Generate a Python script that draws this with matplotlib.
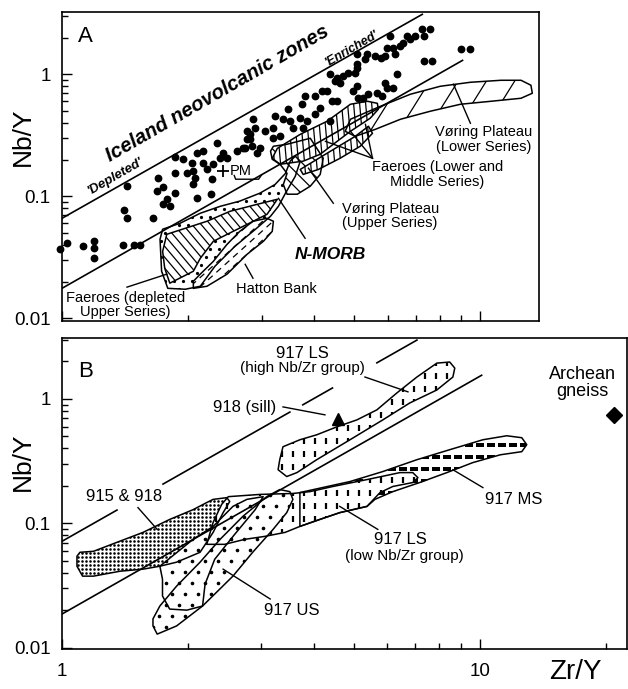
import numpy as np
import matplotlib
matplotlib.use('Agg')
import matplotlib.pyplot as plt
from matplotlib.patches import Polygon
from matplotlib.collections import LineCollection
from matplotlib.transforms import IdentityTransform
from matplotlib.ticker import FixedLocator, FixedFormatter, LogLocator, NullFormatter

plt.rcParams['font.family'] = ['Liberation Sans', 'DejaVu Sans']

# ---------------- panel A (Zr/Y, Nb/Y) ----------------
ice_up_x = [1.0, 7.26]
ice_up_y = [0.066, 3.1]
ice_lo_x = [1.0, 9.06]
ice_lo_y = [0.0176, 1.30]

ice_x = [0.99, 1.03, 1.12, 1.19, 1.19, 1.19, 1.40, 1.49, 1.54,
         1.43, 1.41, 1.43, 1.65, 1.86, 1.70, 1.69, 1.74, 1.78, 1.86, 1.74, 1.81,
         1.86, 1.95, 1.99, 2.05, 2.06, 2.08, 2.06, 2.10, 2.17, 2.17, 2.22, 2.30, 2.28,
         2.10, 2.27, 2.35, 2.39, 2.43, 2.48, 2.62, 2.71, 2.77, 2.82, 2.86, 2.85, 2.93,
         2.90, 2.77, 3.06, 3.20, 3.23, 3.38, 3.47, 3.51, 3.75, 3.71, 3.85, 4.03, 4.14,
         4.38, 4.43, 4.55, 4.03, 4.19, 4.30, 3.81, 4.97, 5.08, 5.11, 5.25, 5.40, 5.67,
         5.83, 5.99, 6.19, 6.33, 5.93, 4.38, 4.55, 4.70, 4.83, 5.02, 5.08, 4.50, 4.62,
         5.37, 5.61, 5.77, 5.93, 5.99, 6.19, 6.26, 6.44, 6.54, 6.69, 6.80, 6.99, 7.26,
         7.59, 7.31, 6.09, 5.08, 5.31, 5.08, 7.31, 7.67, 8.96, 9.46,
         2.74, 2.98, 2.82, 3.20, 3.32, 3.57, 3.77]
ice_y = [0.0368, 0.0412, 0.0389, 0.0428, 0.0375, 0.031, 0.0397, 0.0397, 0.0397,
         0.121, 0.0767, 0.066, 0.066, 0.209, 0.141, 0.110, 0.119, 0.0945, 0.106, 0.086, 0.0828,
         0.154, 0.201, 0.154, 0.186, 0.160, 0.141, 0.125, 0.225, 0.234, 0.186, 0.166, 0.183, 0.138,
         0.0963, 0.104, 0.272, 0.205, 0.225, 0.205, 0.234, 0.247, 0.293, 0.322, 0.428, 0.257, 0.225,
         0.361, 0.341, 0.341, 0.361, 0.453, 0.428, 0.517, 0.412, 0.568, 0.436, 0.412, 0.47, 0.526,
         0.412, 0.601, 0.601, 0.66, 0.726, 0.726, 0.66, 0.726, 0.797, 0.636, 0.636, 0.686, 0.699,
         0.66, 0.768, 0.768, 1.0, 0.844, 1.0, 0.927, 0.963, 1.02, 1.02, 1.12, 0.877, 0.844,
         1.46, 1.40, 1.35, 1.40, 1.63, 1.63, 1.46, 1.70, 1.80, 2.05, 1.94, 2.05, 2.34,
         2.34, 2.05, 2.05, 1.46, 1.33, 1.21, 1.28, 1.28, 1.60, 1.60,
         0.247, 0.247, 0.293, 0.299, 0.310, 0.361, 0.361]

pm_x, pm_y = 2.43, 0.160
# small bracket under PM
pm_brk_x = [2.58, 2.60, 2.95, 3.00]
pm_brk_y = [0.148, 0.138, 0.138, 0.150]

nmorb_x = [1.715, 1.74, 1.915, 2.14, 2.39, 2.66, 2.97, 3.23, 3.42, 3.51, 3.61, 3.71,
           3.61, 3.42, 3.29, 3.15, 2.90, 2.59, 2.32, 2.14, 1.97, 1.79, 1.73]
nmorb_y = [0.0444, 0.0537, 0.0601, 0.0726, 0.0828, 0.0913, 0.106, 0.125, 0.154, 0.194, 0.213, 0.194,
           0.146, 0.106, 0.0828, 0.0686, 0.0537, 0.0389, 0.0267, 0.0183, 0.0173, 0.0176, 0.0243]

faer_dep_x = [1.78, 2.22, 2.52, 2.93, 3.27, 3.09, 2.77, 2.30, 2.14, 2.06, 1.81, 1.76, 1.74]
faer_dep_y = [0.0488, 0.0624, 0.0753, 0.0860, 0.0945, 0.0712, 0.0589, 0.0428, 0.031, 0.0243,
              0.0194, 0.0257, 0.0354]

hatton_x = [2.06, 2.22, 2.48, 2.77, 3.03, 3.18, 3.20, 3.09, 2.86, 2.66, 2.48, 2.30, 2.14, 2.06]
hatton_y = [0.0176, 0.0183, 0.0230, 0.0335, 0.0428, 0.0516, 0.0624, 0.066, 0.0624, 0.0516,
            0.0404, 0.0293, 0.0230, 0.0201]

voring_up_x = [3.20, 3.45, 3.92, 4.21, 4.14, 3.92, 3.65, 3.45, 3.38, 3.45, 3.32, 3.18, 3.15]
voring_up_y = [0.257, 0.267, 0.299, 0.205, 0.151, 0.121, 0.104, 0.104, 0.125, 0.154, 0.183,
               0.201, 0.234]

faer_low_x = [3.18, 3.27, 3.71, 4.30, 4.89, 5.37, 5.67, 5.70, 5.45, 4.89, 4.45, 4.14, 3.77, 3.32]
faer_low_y = [0.205, 0.247, 0.322, 0.412, 0.568, 0.601, 0.578, 0.517, 0.436, 0.341, 0.267,
              0.221, 0.194, 0.183]

faer_mid_x = [3.71, 4.38, 5.02, 5.40, 5.52, 5.16, 4.62, 4.10, 3.77]
faer_mid_y = [0.166, 0.234, 0.310, 0.375, 0.328, 0.257, 0.205, 0.166, 0.151]

voring_low_x = [4.89, 5.77, 6.80, 8.01, 9.46, 11.2, 12.5, 13.2, 13.3, 12.5, 10.6, 8.96,
                7.59, 6.44, 5.61, 5.02, 4.75]
voring_low_y = [0.428, 0.547, 0.686, 0.797, 0.860, 0.893, 0.893, 0.813, 0.699, 0.636, 0.601,
                0.568, 0.498, 0.428, 0.354, 0.310, 0.341]

# ---------------- panel B ----------------
# upper reference line is drawn as long dashes: pairs of (start, end)
ref_up_x = [1.0, 1.354, 1.745, 3.51, 3.77, 4.44, 5.67, 7.07]
ref_up_y = [0.0718, 0.128, 0.207, 0.784, 0.897, 1.225, 1.95, 2.97]
ref_lo_x = [1.0, 10.1]
ref_lo_y = [0.0187, 1.55]

s915_x = [1.086, 1.104, 1.19, 1.354, 1.563, 1.81, 2.06, 2.22, 2.30, 2.48, 2.52, 2.43, 2.30,
          2.14, 1.88, 1.715, 1.563, 1.377, 1.19, 1.12, 1.086]
s915_y = [0.0545, 0.0586, 0.0597, 0.0705, 0.0847, 0.1076, 0.129, 0.147, 0.156, 0.161, 0.150,
          0.122, 0.0847, 0.0586, 0.0488, 0.0453, 0.0429, 0.0413, 0.0377, 0.0377, 0.0453]

us_a_x = [1.651, 1.69, 1.88, 2.17, 2.565, 2.86, 3.20, 3.45, 3.57, 3.51, 3.32, 3.09, 2.71,
          2.39, 2.14, 1.88, 1.715, 1.651]
us_a_y = [0.0150, 0.0129, 0.0150, 0.0217, 0.0377, 0.0586, 0.0895, 0.122, 0.156, 0.180, 0.187,
          0.164, 0.114, 0.0745, 0.0488, 0.0313, 0.0217, 0.0171]

us_b_x = [1.715, 2.06, 2.30, 2.565, 2.77, 3.03, 2.90, 2.59, 2.32, 2.20, 2.17, 1.99, 1.81,
          1.74, 1.74]
us_b_y = [0.0453, 0.0745, 0.0946, 0.137, 0.156, 0.164, 0.129, 0.0817, 0.0515, 0.0325, 0.0217,
          0.0201, 0.0205, 0.0261, 0.0356]

ls_high_x = [3.32, 3.38, 3.71, 4.07, 4.55, 5.08, 5.67, 6.33, 7.07, 7.89, 8.47, 8.71, 8.62,
             7.89, 6.80, 5.86, 4.89, 4.07, 3.65, 3.45, 3.29]
ls_high_y = [0.325, 0.413, 0.470, 0.515, 0.597, 0.679, 0.817, 1.117, 1.50, 1.94, 1.98, 1.77,
             1.50, 1.18, 0.929, 0.679, 0.470, 0.325, 0.256, 0.238, 0.270]

ls_low_x = [2.22, 2.30, 2.41, 2.50, 2.98, 3.57, 3.92, 4.45, 5.37, 6.44, 6.91, 7.11, 6.91,
            6.19, 5.77, 5.37, 4.62, 4.14, 3.71, 3.42, 3.06, 2.74, 2.45]
ls_low_y = [0.0679, 0.102, 0.142, 0.164, 0.171, 0.174, 0.180, 0.198, 0.225, 0.256, 0.256,
            0.233, 0.213, 0.198, 0.177, 0.137, 0.122, 0.1076, 0.0946, 0.0847, 0.0787, 0.0745,
            0.0679]

ms_x = [3.71, 4.89, 5.86, 7.07, 8.47, 10.17, 11.6, 12.6, 12.95, 12.6, 11.2, 9.62, 8.34, 7.18,
        6.19, 5.61, 5.37, 4.62, 4.14, 3.71]
ms_y = [0.177, 0.217, 0.261, 0.325, 0.391, 0.470, 0.506, 0.488, 0.429, 0.377, 0.356, 0.308,
        0.256, 0.213, 0.180, 0.156, 0.137, 0.122, 0.1076, 0.0946]

sill_x, sill_y = 4.57, 0.69
gneiss_x, gneiss_y = 20.9, 0.745

ZF = {'z': 2.0}


def field(ax, xs, ys):
    ZF['z'] += 0.01
    pts = np.column_stack([xs, ys])
    p = Polygon(pts, closed=True, fc='white', ec='none', zorder=ZF['z'])
    ax.add_patch(p)
    ax.add_patch(Polygon(pts, closed=True, fc='none', ec='black', lw=1.1,
                         joinstyle='round', zorder=6))
    return p


def marks(ax, patch, dx, dy, marker, ms, mew=1.0, stagger=True):
    bb = ax.bbox
    gx, gy = np.meshgrid(np.arange(bb.x0, bb.x1, dx), np.arange(bb.y0, bb.y1, dy))
    if stagger:
        gx[1::2] += dx / 2
    ln, = ax.plot(gx.ravel(), gy.ravel(), ls='none', marker=marker, ms=ms, mew=mew,
                  color='black', transform=IdentityTransform(),
                  zorder=patch.get_zorder() + 0.005)
    ln.set_clip_path(patch)


def strokes(ax, patch, angle, gap, ls='-', lw=0.9):
    bb = ax.bbox
    cx, cy = (bb.x0 + bb.x1) / 2, (bb.y0 + bb.y1) / 2
    L = np.hypot(bb.width, bb.height)
    a = np.radians(angle)
    d = np.array([np.cos(a), np.sin(a)])
    n = np.array([-np.sin(a), np.cos(a)])
    segs = []
    for o in np.arange(-L, L, gap):
        c = np.array([cx, cy]) + n * o
        segs.append([c - d * L, c + d * L])
    lc = LineCollection(segs, colors='black', linewidths=lw, linestyles=ls,
                        transform=IdentityTransform(), zorder=patch.get_zorder() + 0.005)
    ax.add_collection(lc, autolim=False)
    lc.set_clip_path(patch)


def style_axes(ax, ylim, xlim, xlabels):
    ax.set_xscale('log')
    ax.set_yscale('log')
    ax.set_xlim(*xlim)
    ax.set_ylim(*ylim)
    ax.xaxis.set_major_locator(FixedLocator([1, 10]))
    ax.xaxis.set_minor_locator(LogLocator(subs=np.arange(2, 10)))
    ax.xaxis.set_minor_formatter(NullFormatter())
    if xlabels:
        ax.xaxis.set_major_formatter(FixedFormatter(['1', '10']))
    else:
        ax.xaxis.set_major_formatter(NullFormatter())
    ax.yaxis.set_major_locator(FixedLocator([0.01, 0.1, 1]))
    ax.yaxis.set_major_formatter(FixedFormatter(['0.01', '0.1', '1']))
    ax.yaxis.set_minor_locator(LogLocator(subs=np.arange(2, 10)))
    ax.yaxis.set_minor_formatter(NullFormatter())
    ax.tick_params(which='both', direction='in', top=False, right=False, width=1)
    ax.tick_params(which='major', length=7, labelsize=13.5, pad=8)
    ax.tick_params(which='minor', length=4)
    for s in ax.spines.values():
        s.set_linewidth(1.2)


fig = plt.figure(figsize=(6.28, 6.89), dpi=100)
axA = fig.add_axes([0.0987, 0.5341, 0.7596, 0.4485])
axB = fig.add_axes([0.0987, 0.0581, 0.8997, 0.4514])
style_axes(axA, (0.0095, 3.24), (1, 13.8), False)
style_axes(axB, (0.0098, 3.09), (1, 22.5), True)
axB.tick_params(axis='x', which='major', pad=10)

# ---- panel A fields ----
p = field(axA, nmorb_x, nmorb_y)
marks(axA, p, 9, 8, 'o', 1.3)
p = field(axA, faer_dep_x, faer_dep_y)
strokes(axA, p, -50, 7)
p = field(axA, hatton_x, hatton_y)
strokes(axA, p, 42, 7, ls=(0, (5, 4)))
p = field(axA, voring_up_x, voring_up_y)
strokes(axA, p, -45, 11)
p = field(axA, voring_low_x, voring_low_y)
strokes(axA, p, 58, 24)
p = field(axA, faer_mid_x, faer_mid_y)
strokes(axA, p, 95, 6)
p = field(axA, faer_low_x, faer_low_y)
strokes(axA, p, 95, 6)

axA.plot(ice_up_x, ice_up_y, color='black', lw=1.2, zorder=7)
axA.plot(ice_lo_x, ice_lo_y, color='black', lw=1.2, zorder=7)
axA.plot(ice_x, ice_y, ls='none', marker='o', ms=4.6, color='black', zorder=8, clip_on=False)
axA.plot(pm_x, pm_y, marker='+', ms=9, mew=1.3, color='black', zorder=8)
axA.plot(pm_brk_x, pm_brk_y, color='black', lw=1.0, zorder=7)
axA.text(2.52, pm_y, 'PM', fontsize=10.5, ha='left', va='center', zorder=9)

axA.text(0.05, 0.922, 'A', transform=axA.transAxes, fontsize=16, ha='center', va='center')
axA.text(2.35, 0.70, 'Iceland neovolcanic zones', fontsize=14.5, fontweight='bold',
         fontstyle='italic', rotation=30, ha='center', va='center', rotation_mode='anchor')
axA.text(1.34, 0.146, "'Depleted'", fontsize=9.5, fontweight='bold', fontstyle='italic',
         rotation=30, ha='center', va='center', rotation_mode='anchor')
axA.text(4.94, 1.63, "'Enriched'", fontsize=9, fontweight='bold', fontstyle='italic',
         rotation=30, ha='center', va='center', rotation_mode='anchor')
axA.text(4.38, 0.0335, 'N-MORB', fontsize=12.5, fontweight='bold', fontstyle='italic',
         ha='center', va='center')
axA.text(3.25, 0.0173, 'Hatton Bank', fontsize=10.5, ha='center', va='center')
axA.text(1.42, 0.0128, 'Faeroes (depleted\nUpper Series)', fontsize=10.5, ha='center',
         va='center', linespacing=1.0)
axA.text(10.17, 0.293, 'V\u00f8ring Plateau\n(Lower Series)', fontsize=10.5, ha='center',
         va='center', linespacing=1.1)
axA.text(7.89, 0.151, 'Faeroes (Lower and\nMiddle Series)', fontsize=10.5, ha='center',
         va='center', linespacing=1.1)
axA.text(4.67, 0.0686, 'V\u00f8ring Plateau\n(Upper Series)', fontsize=10.5, ha='left',
         va='center', linespacing=1.0)

leadA = [((1.43, 0.0180), (1.78, 0.0230)),
         ((2.86, 0.0213), (2.74, 0.0277)),
         ((3.81, 0.0453), (3.29, 0.0963)),
         ((4.45, 0.0877), (3.88, 0.170)),
         ((5.52, 0.205), (4.26, 0.282)),
         ((5.52, 0.205), (4.89, 0.341)),
         ((5.52, 0.205), (5.31, 0.389)),
         ((9.46, 0.397), (8.62, 0.828))]
for (x0, y0), (x1, y1) in leadA:
    axA.plot([x0, x1], [y0, y1], color='black', lw=1.0, zorder=7)

# ---- panel B fields ----
ZF['z'] = 2.0
p = field(axB, s915_x, s915_y)
marks(axB, p, 4, 4, 'o', 0.85, stagger=False)
p = field(axB, ms_x, ms_y)
marks(axB, p, 11, 12, '_', 5.5, mew=1.5, stagger=False)
p = field(axB, ls_low_x, ls_low_y)
marks(axB, p, 11, 13, '|', 5, mew=1.6, stagger=False)
p = field(axB, us_b_x, us_b_y)
marks(axB, p, 13, 11, 'o', 1.6)
p = field(axB, us_a_x, us_a_y)
marks(axB, p, 13, 11, 'o', 1.6)
p = field(axB, ls_high_x, ls_high_y)
marks(axB, p, 11, 13, '|', 5, mew=1.6, stagger=False)

for i in range(0, len(ref_up_x), 2):
    axB.plot(ref_up_x[i:i + 2], ref_up_y[i:i + 2], color='black', lw=1.2, zorder=7)
axB.plot(ref_lo_x, ref_lo_y, color='black', lw=1.2, zorder=7)
axB.plot(sill_x, sill_y, marker='^', ms=9, color='black', zorder=8)
axB.plot(gneiss_x, gneiss_y, marker='D', ms=8, color='black', zorder=8, clip_on=False)

axB.text(0.042, 0.891, 'B', transform=axB.transAxes, fontsize=16, ha='center', va='center')
axB.text(3.77, 2.33, '917 LS', fontsize=12, ha='center', va='center')
axB.text(3.77, 1.77, '(high Nb/Zr group)', fontsize=11, ha='center', va='center')
axB.text(2.74, 0.847, '918 (sill)', fontsize=12, ha='center', va='center')
axB.text(1.41, 0.164, '915 & 918', fontsize=12, ha='center', va='center')
axB.text(3.55, 0.0198, '917 US', fontsize=12, ha='center', va='center')
axB.text(6.44, 0.0745, '917 LS', fontsize=12, ha='center', va='center')
axB.text(6.58, 0.0545, '(low Nb/Zr group)', fontsize=11, ha='center', va='center')
axB.text(12.06, 0.156, '917 MS', fontsize=12, ha='center', va='center')
axB.text(17.6, 1.34, 'Archean\ngneiss', fontsize=13, ha='center', va='center',
         linespacing=1.0)

leadB = [((5.31, 1.50), (6.73, 1.14)),
         ((3.38, 0.863), (4.26, 0.745)),
         ((1.52, 0.134), (1.69, 0.0895)),
         ((3.15, 0.0247), (2.43, 0.0429)),
         ((5.70, 0.0895), (4.62, 0.137)),
         ((10.17, 0.194), (8.62, 0.270))]
for (x0, y0), (x1, y1) in leadB:
    axB.plot([x0, x1], [y0, y1], color='black', lw=1.0, zorder=7)

fig.text(23 / 628, 1 - 137 / 689, 'Nb/Y', rotation=90, fontsize=19, ha='center', va='center')
fig.text(23 / 628, 1 - 462 / 689, 'Nb/Y', rotation=90, fontsize=19, ha='center', va='center')
fig.text(575 / 628, 1 - 672 / 689, 'Zr/Y', fontsize=20, ha='center', va='center')

fig.savefig('out.png', dpi=100, facecolor='white')
